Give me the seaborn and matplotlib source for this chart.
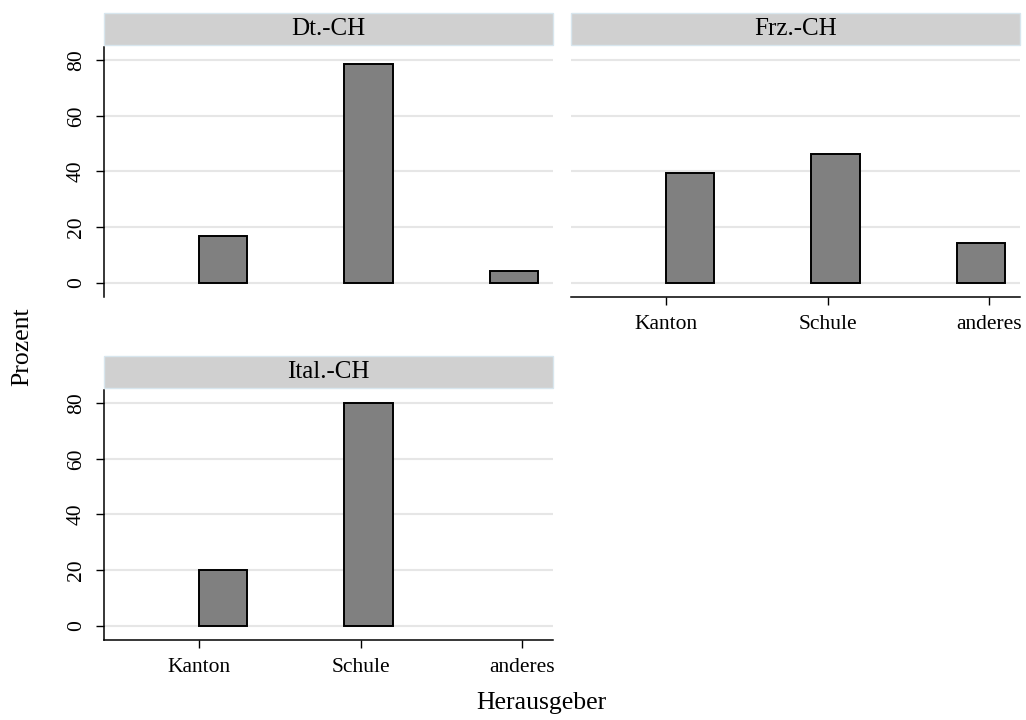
import numpy as np
import pandas as pd
import seaborn as sns
import matplotlib.pyplot as plt
from matplotlib.patches import Rectangle

# data (Prozent by Herausgeber, per language region)
categories = ['Kanton', 'Schule', 'anderes']
regions = ['Dt.-CH', 'Frz.-CH', 'Ital.-CH']
dt_ch = [16.9, 78.7, 4.4]
frz_ch = [39.3, 46.4, 14.3]
ital_ch = [20.0, 80.0, 0.0]
y_ticks = [0, 20, 40, 60, 80]

df = pd.DataFrame({
    'region': np.repeat(regions, len(categories)),
    'Herausgeber': categories * len(regions),
    'Prozent': dt_ch + frz_ch + ital_ch,
})

sns.set_style('white')
plt.rcParams['font.family'] = ['Liberation Serif', 'DejaVu Serif']
plt.rcParams['text.color'] = 'black'
plt.rcParams['xtick.color'] = 'black'
plt.rcParams['ytick.color'] = 'black'
plt.rcParams['axes.labelcolor'] = 'black'

W, H = 1026, 720
fig = plt.figure(figsize=(W / 100, H / 100), dpi=100)

# panel boxes in pixels: x0, y_top, x1, y_bottom
boxes = {
    'Dt.-CH': (104, 47, 553, 297),
    'Frz.-CH': (571, 47, 1020, 297),
    'Ital.-CH': (104, 390, 553, 640),
}
show_x = {'Dt.-CH': False, 'Frz.-CH': True, 'Ital.-CH': True}
show_y = {'Dt.-CH': True, 'Frz.-CH': False, 'Ital.-CH': True}
tick_pos = [-0.165, 0.946, 2.055]

for reg in regions:
    x0, yt, x1, yb = boxes[reg]
    ax = fig.add_axes([x0 / W, 1 - yb / H, (x1 - x0) / W, (yb - yt) / H])
    sub = df[df['region'] == reg]
    sns.barplot(data=sub, x='Herausgeber', y='Prozent', order=categories,
                color='#808080', saturation=1, edgecolor='black',
                linewidth=1.4, width=0.333, errorbar=None, ax=ax)
    for p in ax.patches:
        if p.get_height() == 0:
            p.set_linewidth(0)

    ax.set_xlim(-0.818, 2.268)
    ax.set_ylim(-5.1, 84.7)
    ax.set_yticks(y_ticks)
    ax.yaxis.grid(True, color='#e6e6e6', linewidth=1.5)
    ax.set_axisbelow(True)
    ax.set_xlabel('')
    ax.set_ylabel('')
    for s in ['top', 'right']:
        ax.spines[s].set_visible(False)

    if show_y[reg]:
        ax.spines['left'].set_linewidth(1.1)
        ax.spines['left'].set_color('black')
        ax.tick_params(axis='y', direction='out', length=6, width=1.0,
                       pad=7, labelsize=15.5, left=True, colors='black')
        for lab in ax.get_yticklabels():
            lab.set_rotation(90)
            lab.set_va('center')
    else:
        ax.spines['left'].set_visible(False)
        ax.tick_params(axis='y', left=False, labelleft=False)

    if show_x[reg]:
        ax.spines['bottom'].set_linewidth(1.1)
        ax.spines['bottom'].set_color('black')
        ax.set_xticks(tick_pos)
        ax.set_xticklabels(categories)
        ax.tick_params(axis='x', direction='out', length=6, width=1.0,
                       pad=7, labelsize=15.5, bottom=True, colors='black')
    else:
        ax.spines['bottom'].set_visible(False)
        ax.tick_params(axis='x', bottom=False, labelbottom=False)

    # strip title
    st, sb = yt - 34, yt - 2
    fig.add_artist(Rectangle((x0 / W, 1 - sb / H), (x1 - x0) / W, (sb - st) / H,
                             transform=fig.transFigure, facecolor='#d0d0d0',
                             edgecolor='#d8e6ee', linewidth=1.0))
    fig.text((x0 + x1) / 2 / W, 1 - (st + sb) / 2 / H, reg,
             ha='center', va='center', fontsize=18, color='black')

fig.text(22 / W, 1 - 347 / H, 'Prozent', rotation=90, ha='center',
         va='center', fontsize=18.5, color='black')
fig.text(541 / W, 1 - 703 / H, 'Herausgeber', ha='center', va='center',
         fontsize=18.5, color='black')

fig.savefig('out.png', dpi=100)
